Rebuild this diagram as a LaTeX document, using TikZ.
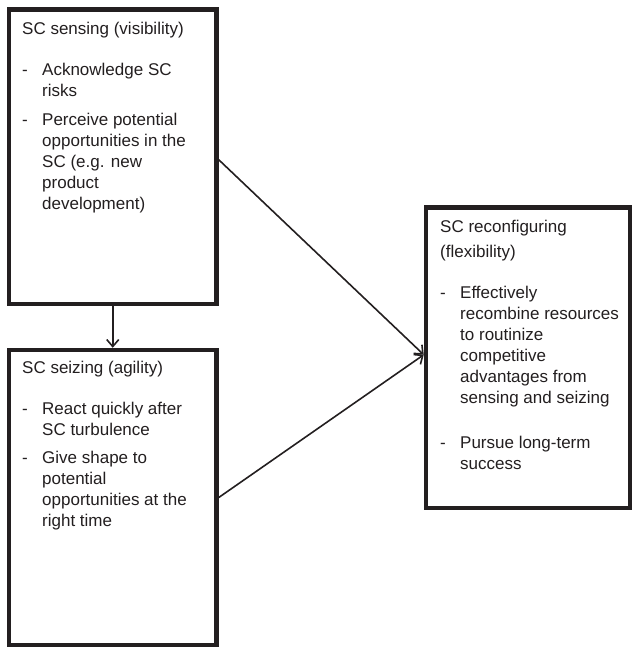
\documentclass[tikz,border=0pt]{standalone}
\usepackage{fontspec}
\setmainfont{Liberation Sans}
\usetikzlibrary{arrows.meta}
\definecolor{ink}{HTML}{231F20}
\begin{document}
\begin{tikzpicture}[x=1pt,y=-1pt]
\tikzset{
  panel/.style={draw=ink, line width=4.5pt, inner sep=0pt, fill=white},
  txt/.style={anchor=base west, inner sep=0pt, text=ink,
              font=\fontsize{17}{21}\selectfont},
  link/.style={draw=ink, line width=1.6pt,
               -{Straight Barb[length=7pt,width=12pt,line width=1.6pt]}}
}
\useasboundingbox (0,0) rectangle (632,648);

% the three capability boxes
\node[panel, minimum width=207.5pt, minimum height=294.5pt] (sense) at (112.75,156.75) {};
\node[panel, minimum width=207.5pt, minimum height=295pt] (seize) at (112.75,497.5) {};
\node[panel, minimum width=204pt, minimum height=300.5pt] (reconf) at (528,357.75) {};

% sensing
\node[txt] (senseT) at (22,34) {SC sensing (visibility)};
\node[txt] (senseD1) at (22,75) {-};
\node[txt] (senseD2) at (22,125) {-};
\foreach \y/\s [count=\i] in {75/{Acknowledge SC}, 96/{risks},
    125/{Perceive potential}, 146/{opportunities in the},
    167/{SC (e.g. new}, 188/{product}, 209/{development)}}
  \node[txt] (senseL\i) at (42,\y) {\s};

% seizing
\node[txt] (seizeT) at (22,373) {SC seizing (agility)};
\node[txt] (seizeD1) at (22,414) {-};
\node[txt] (seizeD2) at (22,463) {-};
\foreach \y/\s [count=\i] in {414/{React quickly after}, 435/{SC turbulence},
    463/{Give shape to}, 484/{potential},
    505/{opportunities at the}, 526/{right time}}
  \node[txt] (seizeL\i) at (42,\y) {\s};

% reconfiguring
\node[txt] (reconfT1) at (440,232) {SC reconfiguring};
\node[txt] (reconfT2) at (440,257) {(flexibility)};
\node[txt] (reconfD1) at (440,298) {-};
\node[txt] (reconfD2) at (440,448) {-};
\foreach \y/\s [count=\i] in {298/{Effectively}, 319/{recombine resources},
    340/{to routinize}, 361/{competitive}, 382/{advantages from},
    403/{sensing and seizing}, 448/{Pursue long-term}, 469/{success}}
  \node[txt] (reconfL\i) at (460,\y) {\s};

% connectors
\draw[link] (sense.south) -- (seize.north);
\draw[link] ([yshift=-3pt]sense.east) -- ([yshift=3pt]reconf.west);
\draw[link] (seize.east) -- ([yshift=3pt]reconf.west);
\end{tikzpicture}
\end{document}
